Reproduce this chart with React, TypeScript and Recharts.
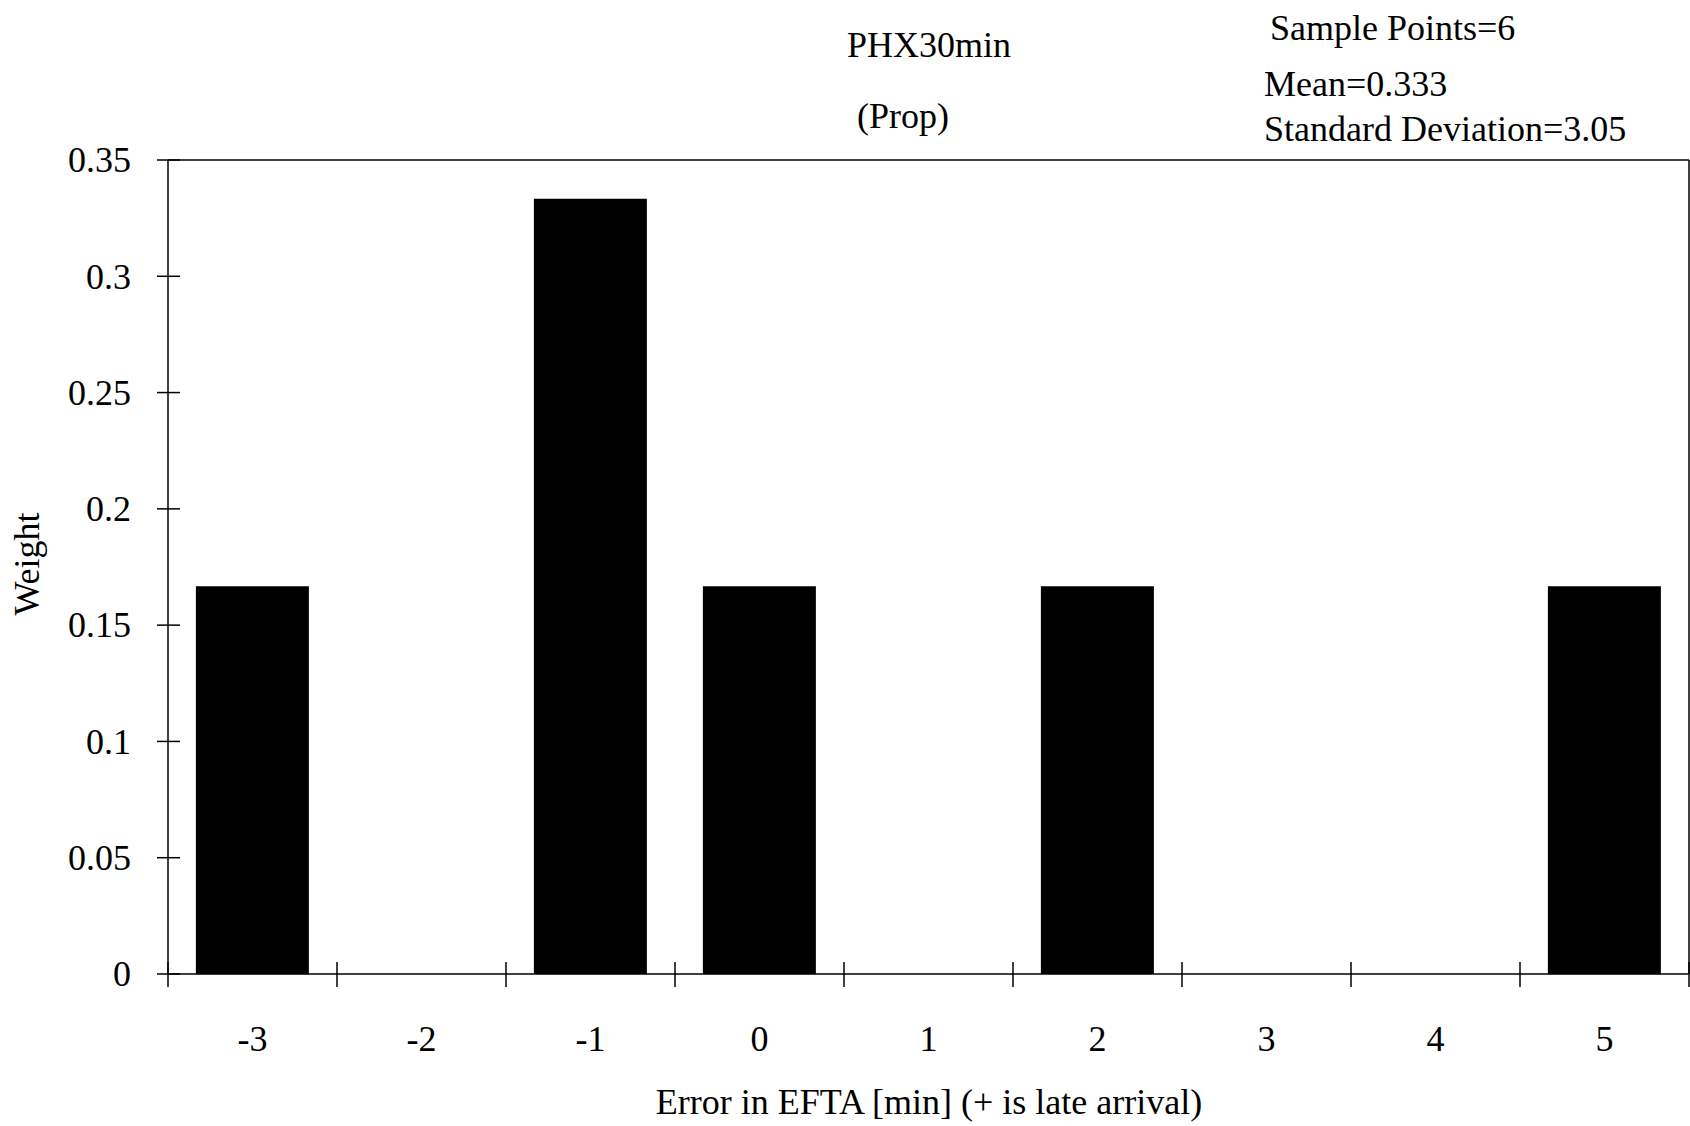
import React from 'react';
import { BarChart, Bar, XAxis, YAxis, ReferenceLine } from 'recharts';

const categories = ['-3', '-2', '-1', '0', '1', '2', '3', '4', '5'];
const weights = [0.1667, 0, 0.3333, 0.1667, 0, 0.1667, 0, 0, 0.1667];
const yTicks = [0, 0.05, 0.1, 0.15, 0.2, 0.25, 0.3, 0.35];

const titleText = 'PHX30min';
const subtitleText = '(Prop)';
const statsLines = ['Sample Points=6', 'Mean=0.333', 'Standard Deviation=3.05'];
const xTitle = 'Error in EFTA [min] (+ is late arrival)';
const yTitle = 'Weight';

const data = categories.map((c, i) => ({ error: c, weight: weights[i] }));

const FONT = '"Liberation Serif", "Times New Roman", serif';
const FS = 36;

const XTick = (props: any) => {
  const { x, y, payload, index, visibleTicksCount, width } = props;
  const off =
    payload && typeof payload.offset === 'number' && payload.offset > 0
      ? payload.offset
      : width / visibleTicksCount / 2;
  const isLast = index === visibleTicksCount - 1;
  return (
    <g>
      <line x1={x - off} x2={x - off} y1={y - 12} y2={y + 13} stroke="#000" strokeWidth={1.5} />
      {isLast && (
        <line x1={x + off} x2={x + off} y1={y - 12} y2={y + 13} stroke="#000" strokeWidth={1.5} />
      )}
      <text x={x} y={y + 77} textAnchor="middle" fontFamily={FONT} fontSize={FS} fill="#000">
        {payload.value}
      </text>
    </g>
  );
};

const YTick = (props: any) => {
  const { x, y, payload } = props;
  return (
    <g>
      <line x1={x - 11} x2={x + 12} y1={y} y2={y} stroke="#000" strokeWidth={1.5} />
      <text x={x - 37} y={y} dy="0.34em" textAnchor="end" fontFamily={FONT} fontSize={FS} fill="#000">
        {String(payload.value)}
      </text>
    </g>
  );
};

export default function App() {
  return (
    <div style={{ position: 'absolute', left: 0, top: 0, width: 1690, height: 1126, background: '#fff' }}>
      <BarChart
        width={1690}
        height={1126}
        data={data}
        margin={{ top: 160, right: 1, left: 0, bottom: 0 }}
        barCategoryGap="16.5%"
      >
        <XAxis
          dataKey="error"
          height={152}
          interval={0}
          tickSize={0}
          tickMargin={0}
          tickLine={false}
          axisLine={{ stroke: '#000', strokeWidth: 1.5 }}
          tick={<XTick />}
        />
        <YAxis
          width={168}
          domain={[0, 0.35]}
          ticks={yTicks}
          interval={0}
          tickSize={0}
          tickMargin={0}
          tickLine={false}
          axisLine={{ stroke: '#000', strokeWidth: 1.5 }}
          tick={<YTick />}
        />
        <ReferenceLine y={0.35} stroke="#000" strokeWidth={1.5} />
        <ReferenceLine x="5" position="end" stroke="#000" strokeWidth={1.5} />
        <Bar dataKey="weight" fill="#000" isAnimationActive={false} />
      </BarChart>
      <svg
        width={1690}
        height={1126}
        style={{ position: 'absolute', left: 0, top: 0, pointerEvents: 'none' }}
      >
        <g fontFamily={FONT} fontSize={FS} fill="#000">
          <text x={929} y={57} textAnchor="middle">{titleText}</text>
          <text x={903} y={128} textAnchor="middle">{subtitleText}</text>
          <text x={1270} y={40}>{statsLines[0]}</text>
          <text x={1264} y={96}>{statsLines[1]}</text>
          <text x={1264} y={141}>{statsLines[2]}</text>
          <text x={929} y={1114} textAnchor="middle">{xTitle}</text>
          <text x={39} y={564} textAnchor="middle" transform="rotate(-90 39 564)">{yTitle}</text>
        </g>
      </svg>
    </div>
  );
}
